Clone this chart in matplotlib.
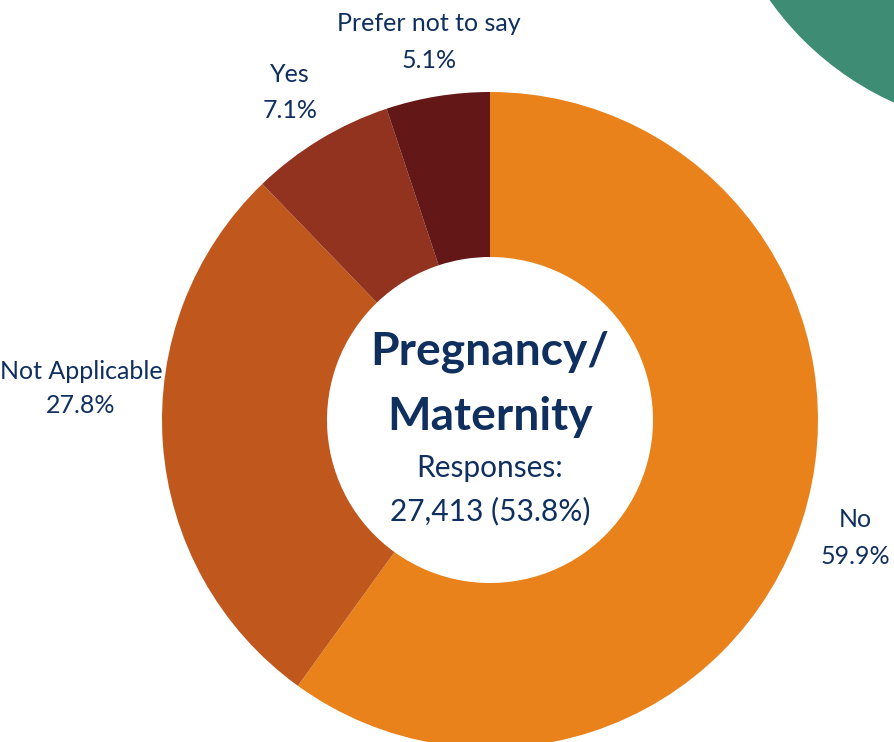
import matplotlib
matplotlib.use("Agg")
import matplotlib.pyplot as plt
from matplotlib.patches import Circle

categories = ["No", "Not Applicable", "Yes", "Prefer not to say"]
shares = [59.9, 27.8, 7.1, 5.1]
colors = ["#E9821B", "#C0581D", "#91331E", "#641717"]
title_lines = ["Pregnancy/", "Maternity"]
responses_label = "Responses:"
responses_value = "27,413 (53.8%)"

W, H = 895, 742
fig = plt.figure(figsize=(W / 100, H / 100), dpi=100)
ax = fig.add_axes([0, 0, 1, 1])
ax.set_xlim(0, W)
ax.set_ylim(0, H)
ax.set_aspect("equal")
ax.axis("off")

navy = "#0F2F5F"
font = "Lato"

# decorative green disc in the top-right corner
ax.add_patch(Circle((1020, H + 177), 306, color="#3E8C74", zorder=0))

cx, cy, r_out = 490, H - 420, 328
ax.pie(shares, colors=colors, startangle=90, counterclock=False,
       center=(cx, cy), radius=r_out,
       wedgeprops=dict(width=r_out - 163, linewidth=0))
ax.set_xlim(0, W)
ax.set_ylim(0, H)

# centre text
ax.text(cx, H - 365, title_lines[0], ha="center", va="baseline",
        fontsize=33.2, fontweight="bold", color=navy, family=font)
ax.text(cx, H - 430, title_lines[1], ha="center", va="baseline",
        fontsize=33.2, fontweight="bold", color=navy, family=font)
ax.text(cx, H - 477, responses_label, ha="center", va="baseline",
        fontsize=21.5, color=navy, family=font)
ax.text(cx, H - 520, responses_value, ha="center", va="baseline",
        fontsize=21.5, color=navy, family=font)

# slice labels: (x, baseline of name line, baseline of value line)
label_pos = {
    "No": (855, 527, 564),
    "Not Applicable": (81, 379, 413),
    "Yes": (290, 82, 118),
    "Prefer not to say": (429, 31, 68),
}
for name, val in zip(categories, shares):
    x, y1, y2 = label_pos[name]
    ax.text(x, H - y1, name, ha="center", va="baseline",
            fontsize=18, color=navy, family=font)
    ax.text(x, H - y2, f"{val:.1f}%", ha="center", va="baseline",
            fontsize=18, color=navy, family=font)

fig.savefig("out.png", dpi=100)
